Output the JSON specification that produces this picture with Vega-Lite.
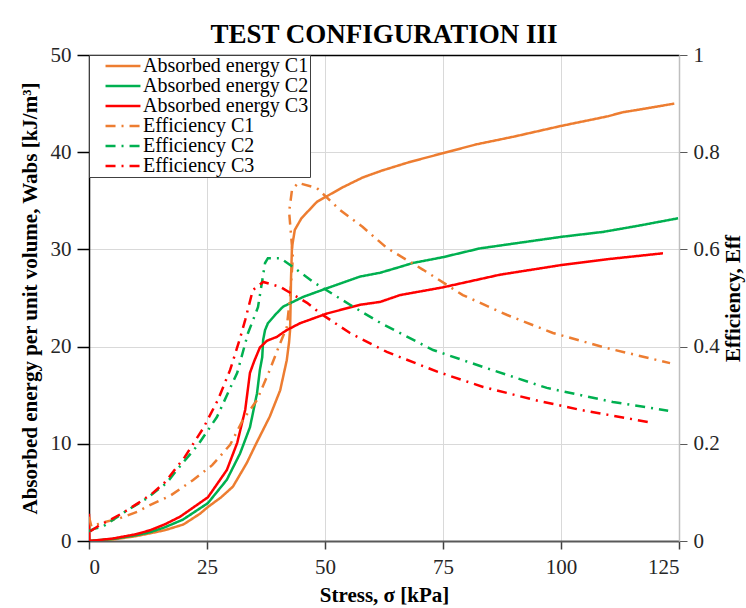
{
  "$schema": "https://vega.github.io/schema/vega-lite/v6.json",
  "width": 590,
  "height": 486,
  "autosize": {"type": "none"},
  "padding": {"left": 89, "top": 55, "right": 67, "bottom": 67},
  "background": "white",
  "title": {
    "text": "TEST CONFIGURATION III",
    "font": "Liberation Serif",
    "fontSize": 27,
    "fontWeight": "bold",
    "color": "#000000",
    "anchor": "middle",
    "offset": -5
  },
  "config": {
    "view": {"stroke": null},
    "axis": {
      "labelFont": "Liberation Serif",
      "labelFontSize": 21,
      "labelColor": "#262626",
      "titleFont": "Liberation Serif",
      "titleFontSize": 21,
      "titleFontWeight": "bold",
      "titleColor": "#000000",
      "gridColor": "#d9d9d9",
      "gridWidth": 1,
      "tickSize": 8
    },
    "legend": {
      "orient": "none",
      "legendX": 0,
      "legendY": 0,
      "fillColor": "white",
      "strokeColor": "#404040",
      "padding": 1,
      "labelFont": "Liberation Serif",
      "labelFontSize": 20,
      "labelColor": "#000000",
      "labelLimit": 400,
      "symbolType": "M0.65,0H4.76",
      "symbolStrokeWidth": 2.5,
      "symbolSize": 289,
      "rowPadding": 0,
      "labelOffset": 33
    }
  },
  "datasets": {
    "energy": [
      {"i": 0, "series": "Absorbed energy C1", "s": 0, "v": 0},
      {"i": 1, "series": "Absorbed energy C1", "s": 5, "v": 0.15},
      {"i": 2, "series": "Absorbed energy C1", "s": 10, "v": 0.5},
      {"i": 3, "series": "Absorbed energy C1", "s": 13, "v": 0.8},
      {"i": 4, "series": "Absorbed energy C1", "s": 16, "v": 1.1},
      {"i": 5, "series": "Absorbed energy C1", "s": 20, "v": 1.7},
      {"i": 6, "series": "Absorbed energy C1", "s": 23.5, "v": 2.8},
      {"i": 7, "series": "Absorbed energy C1", "s": 25.2, "v": 3.5},
      {"i": 8, "series": "Absorbed energy C1", "s": 28, "v": 4.5},
      {"i": 9, "series": "Absorbed energy C1", "s": 30.5, "v": 5.6},
      {"i": 10, "series": "Absorbed energy C1", "s": 33.4, "v": 8.0},
      {"i": 11, "series": "Absorbed energy C1", "s": 35.5, "v": 10.1},
      {"i": 12, "series": "Absorbed energy C1", "s": 38.3, "v": 12.8},
      {"i": 13, "series": "Absorbed energy C1", "s": 40.5, "v": 15.5},
      {"i": 14, "series": "Absorbed energy C1", "s": 41.9, "v": 18.6},
      {"i": 15, "series": "Absorbed energy C1", "s": 42.4, "v": 20.5},
      {"i": 16, "series": "Absorbed energy C1", "s": 42.6, "v": 21.7},
      {"i": 17, "series": "Absorbed energy C1", "s": 42.7, "v": 24},
      {"i": 18, "series": "Absorbed energy C1", "s": 42.8, "v": 27},
      {"i": 19, "series": "Absorbed energy C1", "s": 43.0, "v": 30.2},
      {"i": 20, "series": "Absorbed energy C1", "s": 43.6, "v": 32.0},
      {"i": 21, "series": "Absorbed energy C1", "s": 45, "v": 33.2},
      {"i": 22, "series": "Absorbed energy C1", "s": 48.3, "v": 34.9},
      {"i": 23, "series": "Absorbed energy C1", "s": 53.8, "v": 36.4},
      {"i": 24, "series": "Absorbed energy C1", "s": 58, "v": 37.4},
      {"i": 25, "series": "Absorbed energy C1", "s": 62, "v": 38.1},
      {"i": 26, "series": "Absorbed energy C1", "s": 68, "v": 39.0},
      {"i": 27, "series": "Absorbed energy C1", "s": 75, "v": 39.9},
      {"i": 28, "series": "Absorbed energy C1", "s": 82, "v": 40.8},
      {"i": 29, "series": "Absorbed energy C1", "s": 90, "v": 41.6},
      {"i": 30, "series": "Absorbed energy C1", "s": 100, "v": 42.7},
      {"i": 31, "series": "Absorbed energy C1", "s": 106, "v": 43.3},
      {"i": 32, "series": "Absorbed energy C1", "s": 110, "v": 43.7},
      {"i": 33, "series": "Absorbed energy C1", "s": 113, "v": 44.1},
      {"i": 34, "series": "Absorbed energy C1", "s": 118, "v": 44.5},
      {"i": 35, "series": "Absorbed energy C1", "s": 124, "v": 45.0},

      {"i": 0, "series": "Absorbed energy C2", "s": 0, "v": 0},
      {"i": 1, "series": "Absorbed energy C2", "s": 5, "v": 0.2},
      {"i": 2, "series": "Absorbed energy C2", "s": 10, "v": 0.6},
      {"i": 3, "series": "Absorbed energy C2", "s": 12.9, "v": 0.9},
      {"i": 4, "series": "Absorbed energy C2", "s": 16, "v": 1.4},
      {"i": 5, "series": "Absorbed energy C2", "s": 19.9, "v": 2.2},
      {"i": 6, "series": "Absorbed energy C2", "s": 25.2, "v": 3.9},
      {"i": 7, "series": "Absorbed energy C2", "s": 29.2, "v": 6.3},
      {"i": 8, "series": "Absorbed energy C2", "s": 32, "v": 9.0},
      {"i": 9, "series": "Absorbed energy C2", "s": 34.1, "v": 11.7},
      {"i": 10, "series": "Absorbed energy C2", "s": 35.6, "v": 15.2},
      {"i": 11, "series": "Absorbed energy C2", "s": 36.2, "v": 17.6},
      {"i": 12, "series": "Absorbed energy C2", "s": 36.7, "v": 18.9},
      {"i": 13, "series": "Absorbed energy C2", "s": 36.9, "v": 20.7},
      {"i": 14, "series": "Absorbed energy C2", "s": 37.3, "v": 21.7},
      {"i": 15, "series": "Absorbed energy C2", "s": 37.9, "v": 22.4},
      {"i": 16, "series": "Absorbed energy C2", "s": 39.5, "v": 23.3},
      {"i": 17, "series": "Absorbed energy C2", "s": 41.1, "v": 24.1},
      {"i": 18, "series": "Absorbed energy C2", "s": 45.3, "v": 25.1},
      {"i": 19, "series": "Absorbed energy C2", "s": 50.4, "v": 26.0},
      {"i": 20, "series": "Absorbed energy C2", "s": 57.4, "v": 27.2},
      {"i": 21, "series": "Absorbed energy C2", "s": 61.7, "v": 27.6},
      {"i": 22, "series": "Absorbed energy C2", "s": 65.9, "v": 28.2},
      {"i": 23, "series": "Absorbed energy C2", "s": 68.6, "v": 28.6},
      {"i": 24, "series": "Absorbed energy C2", "s": 75, "v": 29.2},
      {"i": 25, "series": "Absorbed energy C2", "s": 82.8, "v": 30.1},
      {"i": 26, "series": "Absorbed energy C2", "s": 90, "v": 30.6},
      {"i": 27, "series": "Absorbed energy C2", "s": 100.2, "v": 31.3},
      {"i": 28, "series": "Absorbed energy C2", "s": 108.9, "v": 31.8},
      {"i": 29, "series": "Absorbed energy C2", "s": 116, "v": 32.4},
      {"i": 30, "series": "Absorbed energy C2", "s": 124.8, "v": 33.2},

      {"i": 0, "series": "Absorbed energy C3", "s": 0, "v": 2.8},
      {"i": 1, "series": "Absorbed energy C3", "s": 0.1, "v": 0},
      {"i": 2, "series": "Absorbed energy C3", "s": 5, "v": 0.25},
      {"i": 3, "series": "Absorbed energy C3", "s": 10, "v": 0.7},
      {"i": 4, "series": "Absorbed energy C3", "s": 12.9, "v": 1.1},
      {"i": 5, "series": "Absorbed energy C3", "s": 16, "v": 1.7},
      {"i": 6, "series": "Absorbed energy C3", "s": 19.3, "v": 2.5},
      {"i": 7, "series": "Absorbed energy C3", "s": 25.2, "v": 4.5},
      {"i": 8, "series": "Absorbed energy C3", "s": 29.2, "v": 7.3},
      {"i": 9, "series": "Absorbed energy C3", "s": 31.4, "v": 10.1},
      {"i": 10, "series": "Absorbed energy C3", "s": 33.1, "v": 13.5},
      {"i": 11, "series": "Absorbed energy C3", "s": 34.1, "v": 17.3},
      {"i": 12, "series": "Absorbed energy C3", "s": 35.0, "v": 18.5},
      {"i": 13, "series": "Absorbed energy C3", "s": 36.2, "v": 19.9},
      {"i": 14, "series": "Absorbed energy C3", "s": 37.7, "v": 20.6},
      {"i": 15, "series": "Absorbed energy C3", "s": 39.8, "v": 21.0},
      {"i": 16, "series": "Absorbed energy C3", "s": 41.9, "v": 21.7},
      {"i": 17, "series": "Absorbed energy C3", "s": 44.7, "v": 22.4},
      {"i": 18, "series": "Absorbed energy C3", "s": 50.4, "v": 23.4},
      {"i": 19, "series": "Absorbed energy C3", "s": 57.4, "v": 24.3},
      {"i": 20, "series": "Absorbed energy C3", "s": 61.7, "v": 24.6},
      {"i": 21, "series": "Absorbed energy C3", "s": 65.9, "v": 25.3},
      {"i": 22, "series": "Absorbed energy C3", "s": 75, "v": 26.1},
      {"i": 23, "series": "Absorbed energy C3", "s": 87.1, "v": 27.4},
      {"i": 24, "series": "Absorbed energy C3", "s": 100.2, "v": 28.4},
      {"i": 25, "series": "Absorbed energy C3", "s": 110, "v": 29.0},
      {"i": 26, "series": "Absorbed energy C3", "s": 121.6, "v": 29.6}
    ],
    "eff": [
      {"i": 0, "series": "Efficiency C1", "s": 0, "v": 0.05},
      {"i": 1, "series": "Efficiency C1", "s": 0.5, "v": 0.03},
      {"i": 2, "series": "Efficiency C1", "s": 2, "v": 0.035},
      {"i": 3, "series": "Efficiency C1", "s": 3.4, "v": 0.039},
      {"i": 4, "series": "Efficiency C1", "s": 6.6, "v": 0.047},
      {"i": 5, "series": "Efficiency C1", "s": 10.2, "v": 0.06},
      {"i": 6, "series": "Efficiency C1", "s": 12.9, "v": 0.074},
      {"i": 7, "series": "Efficiency C1", "s": 17.2, "v": 0.093},
      {"i": 8, "series": "Efficiency C1", "s": 22, "v": 0.125},
      {"i": 9, "series": "Efficiency C1", "s": 26.1, "v": 0.156},
      {"i": 10, "series": "Efficiency C1", "s": 29.9, "v": 0.198},
      {"i": 11, "series": "Efficiency C1", "s": 32.6, "v": 0.249},
      {"i": 12, "series": "Efficiency C1", "s": 35.6, "v": 0.29},
      {"i": 13, "series": "Efficiency C1", "s": 38.3, "v": 0.352},
      {"i": 14, "series": "Efficiency C1", "s": 40.5, "v": 0.407},
      {"i": 15, "series": "Efficiency C1", "s": 41.9, "v": 0.44},
      {"i": 16, "series": "Efficiency C1", "s": 42.6, "v": 0.502},
      {"i": 17, "series": "Efficiency C1", "s": 43.2, "v": 0.584},
      {"i": 18, "series": "Efficiency C1", "s": 42.4, "v": 0.677},
      {"i": 19, "series": "Efficiency C1", "s": 43.0, "v": 0.722},
      {"i": 20, "series": "Efficiency C1", "s": 44.3, "v": 0.737},
      {"i": 21, "series": "Efficiency C1", "s": 48.3, "v": 0.726},
      {"i": 22, "series": "Efficiency C1", "s": 53.2, "v": 0.681},
      {"i": 23, "series": "Efficiency C1", "s": 58, "v": 0.646},
      {"i": 24, "series": "Efficiency C1", "s": 63.1, "v": 0.603},
      {"i": 25, "series": "Efficiency C1", "s": 70.8, "v": 0.558},
      {"i": 26, "series": "Efficiency C1", "s": 79.2, "v": 0.506},
      {"i": 27, "series": "Efficiency C1", "s": 88.6, "v": 0.465},
      {"i": 28, "series": "Efficiency C1", "s": 98.3, "v": 0.428},
      {"i": 29, "series": "Efficiency C1", "s": 109.7, "v": 0.397},
      {"i": 30, "series": "Efficiency C1", "s": 123.1, "v": 0.366},

      {"i": 0, "series": "Efficiency C2", "s": 0, "v": 0.02},
      {"i": 1, "series": "Efficiency C2", "s": 1, "v": 0.025},
      {"i": 2, "series": "Efficiency C2", "s": 3, "v": 0.03},
      {"i": 3, "series": "Efficiency C2", "s": 7.6, "v": 0.06},
      {"i": 4, "series": "Efficiency C2", "s": 12.3, "v": 0.088},
      {"i": 5, "series": "Efficiency C2", "s": 16.5, "v": 0.12},
      {"i": 6, "series": "Efficiency C2", "s": 18.6, "v": 0.146},
      {"i": 7, "series": "Efficiency C2", "s": 23.1, "v": 0.198},
      {"i": 8, "series": "Efficiency C2", "s": 27.1, "v": 0.255},
      {"i": 9, "series": "Efficiency C2", "s": 31.4, "v": 0.346},
      {"i": 10, "series": "Efficiency C2", "s": 33.7, "v": 0.428},
      {"i": 11, "series": "Efficiency C2", "s": 35.8, "v": 0.481},
      {"i": 12, "series": "Efficiency C2", "s": 37.3, "v": 0.572},
      {"i": 13, "series": "Efficiency C2", "s": 37.9, "v": 0.582},
      {"i": 14, "series": "Efficiency C2", "s": 40.5, "v": 0.582},
      {"i": 15, "series": "Efficiency C2", "s": 43.2, "v": 0.564},
      {"i": 16, "series": "Efficiency C2", "s": 47.5, "v": 0.533},
      {"i": 17, "series": "Efficiency C2", "s": 55.3, "v": 0.486},
      {"i": 18, "series": "Efficiency C2", "s": 61.7, "v": 0.449},
      {"i": 19, "series": "Efficiency C2", "s": 72.9, "v": 0.393},
      {"i": 20, "series": "Efficiency C2", "s": 83.5, "v": 0.358},
      {"i": 21, "series": "Efficiency C2", "s": 97, "v": 0.315},
      {"i": 22, "series": "Efficiency C2", "s": 111, "v": 0.286},
      {"i": 23, "series": "Efficiency C2", "s": 122.7, "v": 0.268},

      {"i": 0, "series": "Efficiency C3", "s": 0.3, "v": 0.02},
      {"i": 1, "series": "Efficiency C3", "s": 2.3, "v": 0.033},
      {"i": 2, "series": "Efficiency C3", "s": 4.4, "v": 0.043},
      {"i": 3, "series": "Efficiency C3", "s": 7.2, "v": 0.058},
      {"i": 4, "series": "Efficiency C3", "s": 10.4, "v": 0.078},
      {"i": 5, "series": "Efficiency C3", "s": 13.3, "v": 0.097},
      {"i": 6, "series": "Efficiency C3", "s": 16.1, "v": 0.121},
      {"i": 7, "series": "Efficiency C3", "s": 20.3, "v": 0.173},
      {"i": 8, "series": "Efficiency C3", "s": 24.2, "v": 0.232},
      {"i": 9, "series": "Efficiency C3", "s": 27.3, "v": 0.29},
      {"i": 10, "series": "Efficiency C3", "s": 29.9, "v": 0.352},
      {"i": 11, "series": "Efficiency C3", "s": 32, "v": 0.417},
      {"i": 12, "series": "Efficiency C3", "s": 33.1, "v": 0.455},
      {"i": 13, "series": "Efficiency C3", "s": 34.7, "v": 0.516},
      {"i": 14, "series": "Efficiency C3", "s": 36.9, "v": 0.533},
      {"i": 15, "series": "Efficiency C3", "s": 40.5, "v": 0.523},
      {"i": 16, "series": "Efficiency C3", "s": 46.2, "v": 0.49},
      {"i": 17, "series": "Efficiency C3", "s": 48.9, "v": 0.469},
      {"i": 18, "series": "Efficiency C3", "s": 55.3, "v": 0.428},
      {"i": 19, "series": "Efficiency C3", "s": 63.1, "v": 0.389},
      {"i": 20, "series": "Efficiency C3", "s": 73.9, "v": 0.348},
      {"i": 21, "series": "Efficiency C3", "s": 83.5, "v": 0.317},
      {"i": 22, "series": "Efficiency C3", "s": 94.5, "v": 0.29},
      {"i": 23, "series": "Efficiency C3", "s": 104, "v": 0.27},
      {"i": 24, "series": "Efficiency C3", "s": 119.5, "v": 0.243}
    ]
  },
  "encoding": {
    "x": {
      "field": "s",
      "type": "quantitative",
      "scale": {"domain": [0, 125], "nice": false},
      "axis": {
        "title": "Stress, σ [kPa]",
        "values": [0, 25, 50, 75, 100, 125],
        "grid": true,
        "domainColor": "#595959",
        "domainWidth": 2,
        "tickColor": "#404040",
        "tickWidth": 1.5,
        "labelPadding": 7,
        "titlePadding": 7
      }
    },
    "color": {
      "field": "series",
      "type": "nominal",
      "scale": {
        "domain": ["Absorbed energy C1", "Absorbed energy C2", "Absorbed energy C3", "Efficiency C1", "Efficiency C2", "Efficiency C3"],
        "range": ["#ED7D31", "#00B050", "#FF0000", "#ED7D31", "#00B050", "#FF0000"]
      },
      "legend": {"title": null}
    },
    "strokeDash": {
      "field": "series",
      "type": "nominal",
      "scale": {
        "domain": ["Absorbed energy C1", "Absorbed energy C2", "Absorbed energy C3", "Efficiency C1", "Efficiency C2", "Efficiency C3"],
        "range": [[1, 0], [1, 0], [1, 0], [10, 6, 2, 6], [10, 6, 2, 6], [10, 6, 2, 6]]
      },
      "legend": {"title": null}
    },
    "order": {"field": "i", "type": "quantitative"}
  },
  "layer": [
    {
      "data": {"name": "energy"},
      "mark": {"type": "line", "strokeWidth": 2.5, "clip": true},
      "encoding": {
        "y": {
          "field": "v",
          "type": "quantitative",
          "scale": {"domain": [0, 50], "nice": false},
          "axis": {
            "orient": "left",
            "title": "Absorbed energy per unit volume, Wabs [kJ/m³]",
            "values": [0, 10, 20, 30, 40, 50],
            "grid": true,
            "domainColor": "#000000",
            "domainWidth": 1.5,
            "tickColor": "#000000",
            "tickWidth": 1.5,
            "tickSize": 12,
            "labelPadding": 6,
            "titlePadding": 10
          }
        }
      }
    },
    {
      "data": {"name": "eff"},
      "mark": {"type": "line", "strokeWidth": 2.5, "clip": true},
      "encoding": {
        "x": {
          "field": "s",
          "type": "quantitative",
          "scale": {"domain": [0, 125], "nice": false},
          "axis": {
            "orient": "top",
            "title": null,
            "labels": false,
            "ticks": false,
            "grid": false,
            "domainColor": "#000000",
            "domainWidth": 1.5
          }
        },
        "y": {
          "field": "v",
          "type": "quantitative",
          "scale": {"domain": [0, 1], "nice": false},
          "axis": {
            "orient": "right",
            "title": "Efficiency, Eff",
            "titleAngle": 270,
            "values": [0, 0.2, 0.4, 0.6, 0.8, 1],
            "format": "~g",
            "grid": false,
            "domainColor": "#bfbfbf",
            "domainWidth": 1.5,
            "tickColor": "#595959",
            "labelPadding": 6,
            "titlePadding": 24
          }
        }
      }
    }
  ],
  "resolve": {"scale": {"y": "independent"}, "axis": {"x": "independent"}}
}
